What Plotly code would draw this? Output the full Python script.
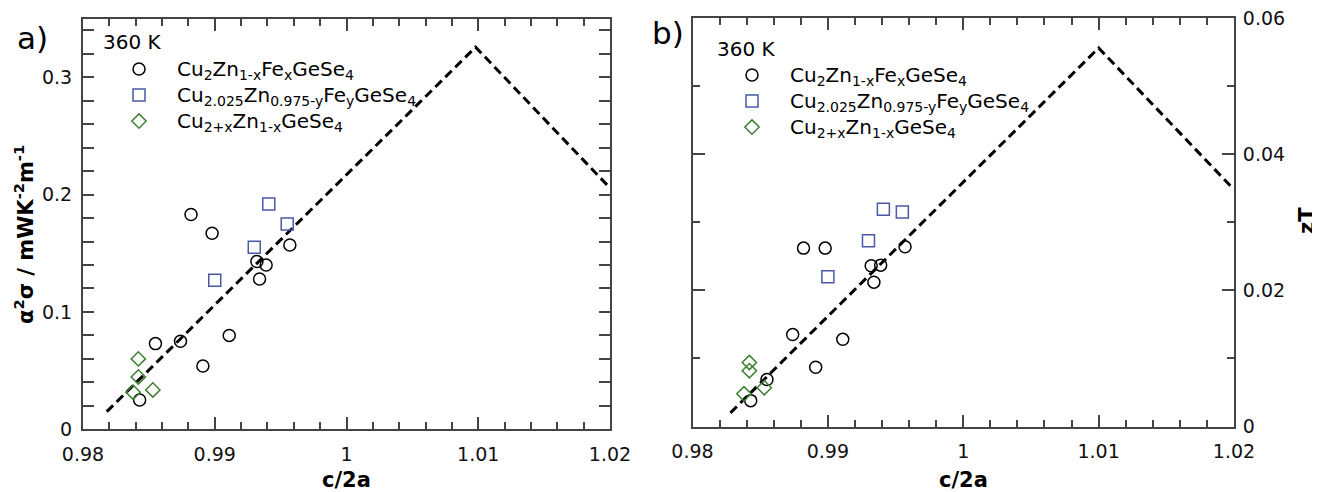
import plotly.graph_objects as go

# page body has an 8px margin, so the figure is drawn 8px right/down
OFF = 8
W, H = 1320 - OFF, 492 - OFF

# ---------------- data ----------------
ratio_fe = [0.9843, 0.9855, 0.9874, 0.9882, 0.9891, 0.9898, 0.9911, 0.9932, 0.9934, 0.9939, 0.9957]
pf_fe = [0.025, 0.073, 0.075, 0.183, 0.054, 0.167, 0.080, 0.143, 0.128, 0.140, 0.157]
zt_fe = [0.0038, 0.0069, 0.0135, 0.0262, 0.0087, 0.0262, 0.0128, 0.0236, 0.0212, 0.0237, 0.0264]

ratio_cu = [0.9900, 0.9930, 0.9941, 0.9955]
pf_cu = [0.127, 0.155, 0.192, 0.175]
zt_cu = [0.0220, 0.0273, 0.0319, 0.0315]

ratio_cx = [0.9838, 0.9842, 0.9842, 0.9853]
pf_cx = [0.0316, 0.0446, 0.0600, 0.0335]
zt_cx = [0.0048, 0.0082, 0.0094, 0.0057]

guide_pf_x = [0.9818, 1.0098, 1.0200]
guide_pf_y = [0.0150, 0.3256, 0.2056]
guide_zt_x = [0.9828, 1.0100, 1.0200]
guide_zt_y = [0.0020, 0.0556, 0.0348]

names = ["Cu<sub>2</sub>Zn<sub>1-x</sub>Fe<sub>x</sub>GeSe<sub>4</sub>",
         "Cu<sub>2.025</sub>Zn<sub>0.975-y</sub>Fe<sub>y</sub>GeSe<sub>4</sub>",
         "Cu<sub>2+x</sub>Zn<sub>1-x</sub>GeSe<sub>4</sub>"]

BLUE = "#4a58a8"
GREEN = "#3f7f33"
FONT = "DejaVu Sans"

def px(x):
    return (x - OFF) / W

def py(y):
    return 1 - (y - OFF) / H

def big(s):
    return '<span style="font-size:20px">' + s + '</span>'

fig = go.Figure()

for (xa, ya, leg, gx, gy, ys) in [("x", "y", "legend", guide_pf_x, guide_pf_y, (pf_fe, pf_cu, pf_cx)),
                                  ("x2", "y2", "legend2", guide_zt_x, guide_zt_y, (zt_fe, zt_cu, zt_cx))]:
    fig.add_trace(go.Scatter(x=gx, y=gy, mode="lines", xaxis=xa, yaxis=ya, showlegend=False,
                             line=dict(color="black", width=3, dash="9px,5px")))
    fig.add_trace(go.Scatter(x=ratio_fe, y=ys[0], mode="markers", name=big(names[0]), xaxis=xa, yaxis=ya, legend=leg,
                             marker=dict(symbol="circle-open", size=12, color="black", line=dict(width=1.5, color="black"))))
    fig.add_trace(go.Scatter(x=ratio_cu, y=ys[1], mode="markers", name=big(names[1]), xaxis=xa, yaxis=ya, legend=leg,
                             marker=dict(symbol="square-open", size=12, color=BLUE, line=dict(width=1.5, color=BLUE))))
    fig.add_trace(go.Scatter(x=ratio_cx, y=ys[2], mode="markers", name=big(names[2]), xaxis=xa, yaxis=ya, legend=leg,
                             marker=dict(symbol="diamond-open", size=11, color=GREEN, line=dict(width=1.5, color=GREEN))))

AX = "#444444"
xcommon = dict(range=[0.98, 1.02], tick0=0.98, dtick=0.01, ticks="inside", ticklen=12, tickwidth=1.5,
               tickcolor=AX, showline=True, linecolor=AX, linewidth=2, mirror="ticks", showgrid=False,
               zeroline=False, automargin=False, ticklabelstandoff=7, ticklabeloverflow="allow",
               tickfont=dict(size=19, color="#111", family=FONT),
               minor=dict(dtick=0.002, ticks="inside", ticklen=7, tickwidth=1.5, tickcolor=AX, showgrid=False))

fig.update_layout(
    template="none",
    width=W, height=H, margin=dict(l=0, r=0, t=0, b=0, pad=0, autoexpand=False),
    paper_bgcolor="white", plot_bgcolor="white",
    font=dict(family=FONT, color="black"),
    xaxis=dict(domain=[px(83), px(610)], anchor="y", **xcommon),
    xaxis2=dict(domain=[px(692.5), px(1234)], anchor="y2", **xcommon),
    yaxis=dict(domain=[py(429.3), py(18.5)], anchor="x", range=[0, 0.35], dtick=0.1, ticks="inside",
               ticklen=11, tickwidth=1.5, tickcolor=AX, showline=True, linecolor=AX, linewidth=2,
               mirror="ticks", showgrid=False, zeroline=False, automargin=False, ticklabelstandoff=5,
               ticklabeloverflow="allow", tickfont=dict(size=19, color="#111", family=FONT),
               minor=dict(dtick=0.02, ticks="inside", ticklen=11, tickwidth=1.5, tickcolor=AX, showgrid=False)),
    yaxis2=dict(domain=[py(426.5), py(18)], anchor="x2", side="right", range=[0, 0.06], dtick=0.02,
                ticks="inside", ticklen=12, tickwidth=1.5, tickcolor=AX, showline=True, linecolor=AX,
                linewidth=2, mirror="ticks", showgrid=False, zeroline=False, automargin=False,
                ticklabelstandoff=3, ticklabeloverflow="allow",
                tickfont=dict(size=19, color="#111", family=FONT),
                minor=dict(dtick=0.01, ticks="inside", ticklen=7, tickwidth=1.5, tickcolor=AX, showgrid=False)),
    legend=dict(x=px(101), y=py(51), xanchor="left", yanchor="top", bgcolor="rgba(0,0,0,0)",
                font=dict(size=17.7, family=FONT, color="black"), itemwidth=66, tracegroupgap=0),
    legend2=dict(x=px(714), y=py(57), xanchor="left", yanchor="top", bgcolor="rgba(0,0,0,0)",
                 font=dict(size=17.7, family=FONT, color="black"), itemwidth=66, tracegroupgap=0),
)

ann = [
    dict(text="a)", x=px(32), y=py(38), font=dict(size=31)),
    dict(text="b)", x=px(668), y=py(33), font=dict(size=31)),
    dict(text="360 K", x=px(132), y=py(42), font=dict(size=20)),
    dict(text="360 K", x=px(746), y=py(49), font=dict(size=20)),
    dict(text="<b>c/2a</b>", x=px(346.5), y=py(480), font=dict(size=21)),
    dict(text="<b>c/2a</b>", x=px(963), y=py(480), font=dict(size=21)),
    dict(text="<b>α<sup>2</sup>σ / mWK<sup>-2</sup>m<sup>-1</sup></b>", x=px(24), y=py(235),
         font=dict(size=21), textangle=-90),
    dict(text="<b>zT</b>", x=px(1307), y=py(221), font=dict(size=21), textangle=-90),
]
for a in ann:
    a.update(xref="paper", yref="paper", showarrow=False, xanchor="center", yanchor="middle")
    a["font"].update(family=FONT, color="black")
    fig.add_annotation(**a)

fig.write_html("out.html")
